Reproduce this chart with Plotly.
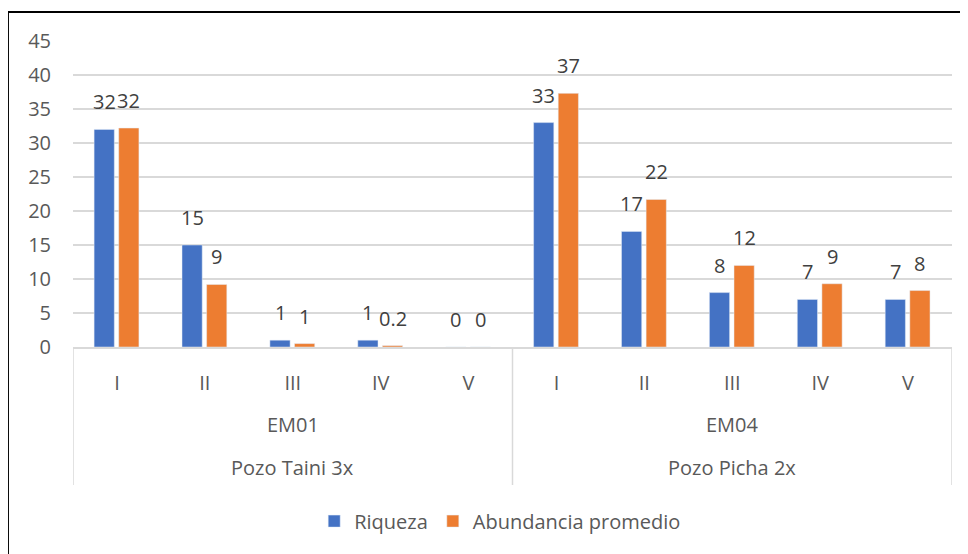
import plotly.graph_objects as go

# Datos
clases = ['I', 'II', 'III', 'IV', 'V']
estaciones = ['EM01', 'EM04']
pozos = ['Pozo Taini 3x', 'Pozo Picha 2x']

riqueza = [32, 15, 1, 1, 0, 33, 17, 8, 7, 7]
abundancia = [32.2, 9.2, 0.5, 0.2, 0, 37.3, 21.7, 12, 9.3, 8.3]
etiquetas_riqueza = ['32', '15', '1', '1', '0', '33', '17', '8', '7', '7']
etiquetas_abundancia = ['32', '9', '1', '0.2', '0', '37', '22', '12', '9', '8']

FONT = 'Open Sans, sans-serif'
FS = 20
AZUL = '#4472C4'
NARANJA = '#ED7D31'
GRIS = '#d9d9d9'

n = len(clases)
x = list(range(len(riqueza)))
ticktext = clases * len(estaciones)

ANCHO = 0.23
OFF_R = -0.26
OFF_A = 0.02

fig = go.Figure()
fig.add_trace(go.Bar(x=x, y=riqueza, name='Riqueza', marker_color=AZUL,
                     width=ANCHO, offset=OFF_R))
fig.add_trace(go.Bar(x=x, y=abundancia, name='Abundancia promedio', marker_color=NARANJA,
                     width=ANCHO, offset=OFF_A))

anots = []
for i, (v, t) in enumerate(zip(riqueza, etiquetas_riqueza)):
    anots.append(dict(x=i + OFF_R + ANCHO / 2, y=v, xref='x', yref='y', text=t, showarrow=False,
                      yanchor='bottom', yshift=12, font=dict(size=FS, color='#404040', family=FONT)))
for i, (v, t) in enumerate(zip(abundancia, etiquetas_abundancia)):
    anots.append(dict(x=i + OFF_A + ANCHO / 2, y=v, xref='x', yref='y', text=t, showarrow=False,
                      yanchor='bottom', yshift=12, font=dict(size=FS, color='#404040', family=FONT)))

# niveles 2 y 3 del eje de categorías
for g, (est, pozo) in enumerate(zip(estaciones, pozos)):
    centro = g * n + (n - 1) / 2
    anots.append(dict(x=centro, y=0, xref='x', yref='paper', text=est, showarrow=False,
                      yanchor='middle', yshift=-77, font=dict(size=FS, color='#595959', family=FONT)))
    anots.append(dict(x=centro, y=0, xref='x', yref='paper', text=pozo, showarrow=False,
                      yanchor='middle', yshift=-120, font=dict(size=FS, color='#595959', family=FONT)))

shapes = []
for g in range(len(estaciones) + 1):
    xd = g * n - 0.5
    shapes.append(dict(type='line', xref='x', yref='paper', x0=xd, x1=xd, y0=0, y1=-0.451,
                       line=dict(color=GRIS, width=1.5)))
# marco exterior
shapes.append(dict(type='rect', xref='paper', yref='paper', x0=-0.074, x1=1.05, y0=-0.7, y1=1.095,
                   line=dict(color='black', width=2), layer='above'))

fig.update_layout(
    width=960, height=546,
    margin=dict(l=65, r=16, t=33, b=207, autoexpand=False),
    paper_bgcolor='white', plot_bgcolor='white',
    font=dict(family=FONT, size=FS, color='#595959'),
    showlegend=True,
    legend=dict(orientation='h', x=0.486, xanchor='center', y=-0.569, yanchor='middle',
                font=dict(size=FS, color='#595959'), itemwidth=30),
    annotations=anots,
    shapes=shapes,
    xaxis=dict(range=[-0.5, len(x) - 0.5], tickvals=x, ticktext=ticktext, showgrid=False,
               showline=True, linecolor=GRIS, linewidth=1.5, ticks='', ticklabelstandoff=17,
               zeroline=False),
    yaxis=dict(range=[0, 45], dtick=5, showgrid=True, gridcolor=GRIS, gridwidth=1.5,
               zeroline=False, ticks='', ticklabelstandoff=21, showline=False),
)

fig.write_html("out.html")
